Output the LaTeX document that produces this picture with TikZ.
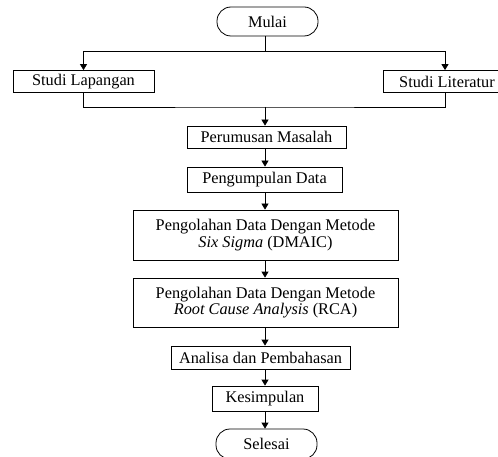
\documentclass[tikz,border=0pt]{standalone}
\usepackage{fontspec}
\setmainfont{Liberation Serif}
\usetikzlibrary{arrows.meta}

\begin{document}
\begin{tikzpicture}[x=1pt,y=-1pt,
        box/.style={draw,line width=0.8pt,inner sep=0pt,align=center,font=\fontsize{16.3}{16.5}\selectfont},
        term/.style={box,rounded corners=14pt},
        arr/.style={-{Triangle[length=6pt,width=7pt]}}]
        \useasboundingbox (0,0) rectangle (498,457);
        \coordinate (axis) at (265,0);
        \coordinate (split) at (265,51);
        \coordinate (merge) at (265,107);
        
        \node[term,minimum width=101pt,minimum height=29pt] (mulai) at (267.5,21.5) {Mulai};
        \node[box,minimum width=141pt,minimum height=22pt] (lapangan) at (83.5,81.5) {Studi Lapangan};
        \node[box,minimum width=128pt,minimum height=22pt] (literatur) at (447,81.5) {Studi Literatur};
        \node[box,minimum width=159pt,minimum height=22pt] (perumusan) at (266.5,137) {Perumusan Masalah};
        \node[box,minimum width=155pt,minimum height=25pt] (pengumpulan) at (264.5,179.5) {Pengumpulan Data};
        \node[box,minimum width=265pt,minimum height=50pt] (dmaic) at (265.5,235) {Pengolahan Data Dengan Metode\\\textit{Six Sigma} (DMAIC)};
        \node[box,minimum width=265pt,minimum height=49pt] (rca) at (265.5,302.5) {Pengolahan Data Dengan Metode\\\textit{Root Cause Analysis} (RCA)};
        \node[box,minimum width=179pt,minimum height=23pt] (analisa) at (260.5,357.5) {Analisa dan Pembahasan};
        \node[box,minimum width=106pt,minimum height=25pt] (kesimpulan) at (265,398.5) {Kesimpulan};
        \node[term,minimum width=101pt,minimum height=30pt] (selesai) at (266.5,444) {Selesai};
        
        \draw[line width=0.8pt] (mulai.south -| split) -- (split);
        \draw[line width=0.8pt,arr] (split) -| (lapangan.north);
        \draw[line width=0.8pt,arr] (split) -| (literatur.north -| 445,0);
        \draw[line width=0.8pt] (lapangan.south) |- (merge) -| (literatur.south -| 445,0);
        \draw[line width=0.8pt,arr] (merge) -- (perumusan.north -| axis);
        \draw[line width=0.8pt,arr] (perumusan.south -| axis) -- (pengumpulan.north -| axis);
        \draw[line width=0.8pt,arr] (pengumpulan.south -| axis) -- (dmaic.north -| axis);
        \draw[line width=0.8pt,arr] (dmaic.south -| axis) -- (rca.north -| axis);
        \draw[line width=0.8pt,arr] (rca.south -| axis) -- (analisa.north -| axis);
        \draw[line width=0.8pt,arr] (analisa.south -| axis) -- (kesimpulan.north -| axis);
        \draw[line width=0.8pt,arr] (kesimpulan.south -| axis) -- (selesai.north -| axis);
\end{tikzpicture}
\end{document}
